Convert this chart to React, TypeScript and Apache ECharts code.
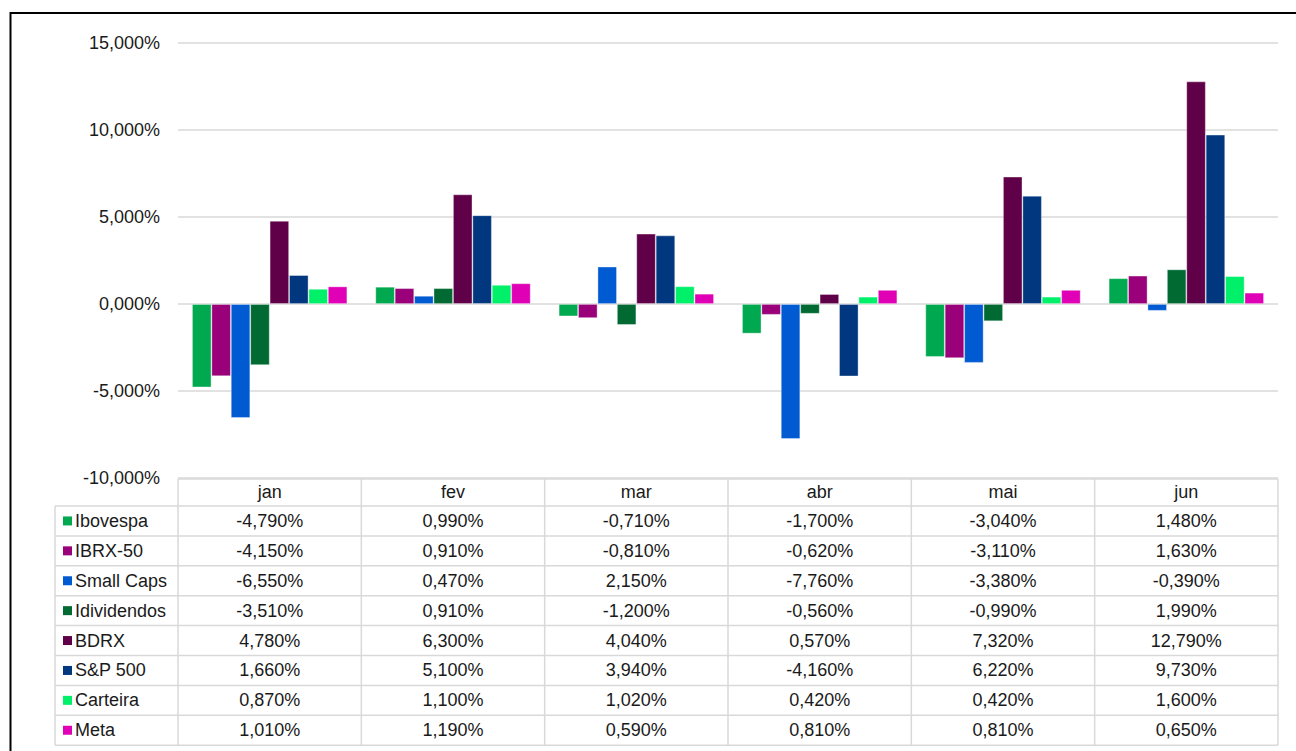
import React, { useEffect, useRef } from "react";
import * as echarts from "echarts";

const categories = ["jan", "fev", "mar", "abr", "mai", "jun"];
const seriesNames = ["Ibovespa", "IBRX-50", "Small Caps", "Idividendos", "BDRX", "S&P 500", "Carteira", "Meta"];
const ibovespa = [-4.79, 0.99, -0.71, -1.7, -3.04, 1.48];
const ibrx50 = [-4.15, 0.91, -0.81, -0.62, -3.11, 1.63];
const smallCaps = [-6.55, 0.47, 2.15, -7.76, -3.38, -0.39];
const idividendos = [-3.51, 0.91, -1.2, -0.56, -0.99, 1.99];
const bdrx = [4.78, 6.3, 4.04, 0.57, 7.32, 12.79];
const sp500 = [1.66, 5.1, 3.94, -4.16, 6.22, 9.73];
const carteira = [0.87, 1.1, 1.02, 0.42, 0.42, 1.6];
const meta = [1.01, 1.19, 0.59, 0.81, 0.81, 0.65];
const seriesValues = [ibovespa, ibrx50, smallCaps, idividendos, bdrx, sp500, carteira, meta];
const colors = ["#00A94F", "#990079", "#005BD3", "#006A32", "#5F0048", "#00377E", "#00F06A", "#E000B5"];

const yMin = -10;
const yMax = 15;
const yStep = 5;

const fmt = (v: number) => v.toFixed(3).replace(".", ",") + "%";

const FONT = '"Liberation Sans", Arial, sans-serif';
const FS = 18;

export default function App() {
  const ref = useRef<HTMLDivElement>(null);
  useEffect(() => {
    if (!ref.current) return;
    const chart = echarts.init(ref.current, undefined, { renderer: "svg" });

    const gridLeft = 178;
    const gridRight = 1278;
    const colW = (gridRight - gridLeft) / categories.length;
    const headerTop = 479;
    const rowTop = 506;
    const rowH = 29.9;
    const tableLeft = 55;
    const tableBottom = rowTop + rowH * seriesNames.length;
    const lineColor = "#d9d9d9";

    const graphics: any[] = [];
    graphics.push({ type: "line", shape: { x1: gridLeft, y1: headerTop, x2: gridRight, y2: headerTop }, style: { stroke: lineColor, lineWidth: 1.5 }, silent: true });
    for (let k = 0; k <= seriesNames.length; k++) {
      const y = rowTop + rowH * k;
      graphics.push({ type: "line", shape: { x1: tableLeft, y1: y, x2: gridRight, y2: y }, style: { stroke: lineColor, lineWidth: 1.5 }, silent: true });
    }
    graphics.push({ type: "line", shape: { x1: tableLeft, y1: rowTop, x2: tableLeft, y2: tableBottom }, style: { stroke: lineColor, lineWidth: 1.5 }, silent: true });
    for (let i = 0; i <= categories.length; i++) {
      const x = gridLeft + colW * i;
      graphics.push({ type: "line", shape: { x1: x, y1: headerTop, x2: x, y2: tableBottom }, style: { stroke: lineColor, lineWidth: 1.5 }, silent: true });
    }
    categories.forEach((c, i) => {
      graphics.push({
        type: "text",
        x: gridLeft + colW * (i + 0.5),
        y: (headerTop + rowTop) / 2 - 1,
        style: { text: c, fontSize: FS, fontFamily: FONT, fill: "#1a1a1a", align: "center", verticalAlign: "middle" },
        silent: true,
      });
    });
    seriesNames.forEach((name, r) => {
      const cy = rowTop + rowH * (r + 0.5);
      graphics.push({ type: "rect", shape: { x: 63, y: cy - 4.5, width: 9, height: 9 }, style: { fill: colors[r] }, silent: true });
      graphics.push({
        type: "text",
        x: 75,
        y: cy,
        style: { text: name, fontSize: FS, fontFamily: FONT, fill: "#1a1a1a", align: "left", verticalAlign: "middle" },
        silent: true,
      });
      seriesValues[r].forEach((v, i) => {
        graphics.push({
          type: "text",
          x: gridLeft + colW * (i + 0.5),
          y: cy,
          style: { text: fmt(v), fontSize: FS, fontFamily: FONT, fill: "#1a1a1a", align: "center", verticalAlign: "middle" },
          silent: true,
        });
      });
    });
    graphics.push({ type: "rect", shape: { x: 10.5, y: 13, width: 1300, height: 760 }, style: { fill: "none", stroke: "#000", lineWidth: 2 }, silent: true });

    chart.setOption({
      animation: false,
      backgroundColor: "#fff",
      grid: { left: gridLeft, right: 1296 - gridRight, top: 43, bottom: 751 - 478, containLabel: false },
      xAxis: {
        type: "category",
        data: categories,
        axisLine: { show: false },
        axisTick: { show: false },
        axisLabel: { show: false },
        splitLine: { show: false },
      },
      yAxis: {
        type: "value",
        min: yMin,
        max: yMax,
        interval: yStep,
        axisLine: { show: false },
        axisTick: { show: false },
        axisLabel: { formatter: (v: number) => fmt(v), fontSize: FS, fontFamily: FONT, color: "#1a1a1a", margin: 18 },
        splitLine: { lineStyle: { color: lineColor, width: 1.5 } },
      },
      series: seriesNames.map((name, r) => ({
        name,
        type: "bar",
        data: seriesValues[r],
        barGap: "0%",
        barCategoryGap: "15.3%",
        itemStyle: { color: colors[r], borderColor: "rgba(255,255,255,0.45)", borderWidth: 0.8 },
      })),
      graphic: graphics,
    });
    return () => chart.dispose();
  }, []);
  return <div ref={ref} style={{ position: "absolute", left: 0, top: 0, width: 1296, height: 751 }} />;
}
